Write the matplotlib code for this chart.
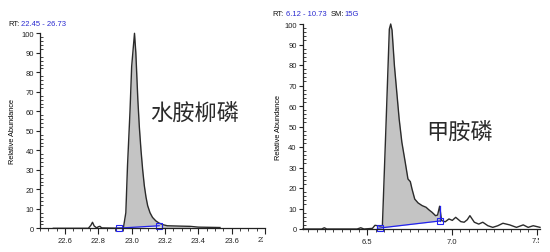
import numpy as np
import matplotlib
matplotlib.use("Agg")
import matplotlib.pyplot as plt
from matplotlib.ticker import MultipleLocator
from matplotlib.transforms import Bbox

plt.rcParams['font.family'] = ['Liberation Sans', 'Noto Sans CJK SC', 'DejaVu Sans']

# ---------------- data ----------------
# left chromatogram (水胺柳磷)
left_rt = [22.53, 22.74, 22.755, 22.765, 22.775, 22.79, 22.80, 22.81, 22.82, 22.95,
           22.965, 22.975, 22.99, 23.0, 23.017, 23.025, 23.037, 23.046, 23.056, 23.066,
           23.076, 23.086, 23.096, 23.11, 23.125, 23.145, 23.164, 23.19, 23.214, 23.3,
           23.35, 23.4, 23.53]
left_ab = [0, 0, 1.5, 3.1, 1.2, 0.2, 0.8, 1.0, 0.2, 0,
           8, 32, 60, 83, 100, 90, 66, 52, 40, 30,
           21.8, 16, 11.6, 8, 5.6, 3.8, 2.7, 1.8, 1.3, 1.1,
           1.0, 0.6, 0.4]
left_base_rt = [22.905, 23.165]
left_base_ab = [0.0, 1.3]
left_marks_rt = [22.925, 23.165]
left_marks_ab = [0.1, 1.3]
left_xticks = [22.6, 22.8, 23.0, 23.2, 23.4, 23.6]
left_cut_tick = 23.8
left_label = '水胺柳磷'

# right chromatogram (甲胺磷)
right_rt = [6.12, 6.23, 6.246, 6.26, 6.44, 6.461, 6.48, 6.53, 6.545, 6.56,
            6.575, 6.589, 6.61, 6.630, 6.638, 6.646, 6.66, 6.674, 6.688, 6.704,
            6.724, 6.74, 6.754, 6.764, 6.78, 6.80, 6.824, 6.847, 6.863, 6.883,
            6.903, 6.915, 6.927, 6.939, 6.96, 6.982, 7.002, 7.022, 7.052, 7.072,
            7.09, 7.106, 7.132, 7.158, 7.182, 7.212, 7.241, 7.271, 7.301, 7.341,
            7.381, 7.421, 7.45, 7.48, 7.52]
right_ab = [0, 0, 0.6, 0, 0, 0.6, 0, 0.3, 1.8, 1.6,
            1.4, 1.6, 50, 97.5, 100, 97, 79.7, 66.7, 53.7, 42.3,
            32.5, 24.4, 23.1, 19.5, 14.6, 12.7, 11.4, 10.6, 9.4, 8.1,
            6.5, 6.8, 11.1, 4.1, 3.5, 4.9, 4.2, 5.7, 3.6, 3.3,
            4.5, 6.5, 3.3, 2.4, 3.3, 1.6, 0.8, 1.6, 2.8, 2.0,
            0.8, 2.0, 0.8, 1.6, 0.8]
right_base_rt = [6.56, 6.575, 6.927]
right_base_ab = [0.4, 0.5, 3.9]
right_spike_ab = [3.9, 11.1]
right_marks_rt = [6.575, 6.927]
right_marks_ab = [0.5, 3.9]
right_xticks = [6.5, 7.0]
right_cut_tick = 7.5
right_label = '甲胺磷'

yticks = [0, 10, 20, 30, 40, 50, 60, 70, 80, 90, 100]

# ---------------- styling ----------------
W, H = 550, 253
fig = plt.figure(figsize=(W / 100, H / 100), dpi=100)
LINE = '#2b2b2b'
FILL = '#c4c4c4'
BLUE = '#2222ee'
TFS = 5.5


def style_axes(ax, xlim, xticks, cut_tick, clip_px):
    ax.set_xlim(*xlim)
    ax.set_ylim(0, 100)
    for s in ['top', 'right']:
        ax.spines[s].set_visible(False)
    for s in ['left', 'bottom']:
        ax.spines[s].set_linewidth(0.9)
        ax.spines[s].set_color('#222222')
    ax.set_xticks(xticks + [cut_tick])
    ax.set_xticklabels([f'{t:.1f}' for t in xticks] + [''])
    ax.xaxis.set_minor_locator(MultipleLocator(0.05))
    ax.set_yticks(yticks)
    ax.set_yticklabels([str(t) for t in yticks])
    ax.yaxis.set_minor_locator(MultipleLocator(2))
    ax.tick_params(axis='x', which='major', direction='out', length=4, width=0.8,
                   labelsize=TFS, pad=2.5, colors='#222222')
    ax.tick_params(axis='x', which='minor', direction='out', length=2, width=0.6,
                   colors='#222222')
    ax.tick_params(axis='y', which='major', direction='out', length=3, width=0.8,
                   labelsize=TFS, pad=1.5, colors='#222222')
    ax.tick_params(axis='y', which='minor', direction='in', length=2, width=0.6,
                   colors='#222222')
    ax.set_facecolor('none')
    # partially cut last tick label
    t = ax.text(cut_tick, -0.037, f'{cut_tick:.1f}', transform=ax.get_xaxis_transform(),
                ha='center', va='top', fontsize=TFS, color='#222222')
    t.set_clip_on(True)
    t.set_clip_box(Bbox([[0, 0], [clip_px, H]]))


# left axes: x 40..265 px, y0 at 229.3, y100 at 34.3
axL = fig.add_axes([40 / W, (H - 229.3) / H, 225 / W, 195 / H])
style_axes(axL, (22.45, 23.80), left_xticks, left_cut_tick, 263)
lx = np.array(left_rt)
ly = np.array(left_ab)
m = (lx >= left_base_rt[0]) & (lx <= 23.38)
fx = np.concatenate(([left_base_rt[0]], lx[m]))
fy = np.concatenate(([0.0], ly[m]))
fb = np.interp(fx, left_base_rt, left_base_ab, right=0.0)
axL.fill_between(fx, fb, fy, color=FILL, lw=0, clip_on=False)
axL.plot(lx, ly, color=LINE, lw=1.0, clip_on=False)
axL.plot(left_base_rt, left_base_ab, color=BLUE, lw=0.9, clip_on=False)
axL.plot(left_marks_rt, left_marks_ab, ls='none', marker='s', ms=4, mfc='none',
         mec=BLUE, mew=0.8, clip_on=False)
axL.set_ylabel('Relative Abundance', fontsize=5.3, labelpad=2)
axL.yaxis.set_label_coords(-(40 - 16.5) / 225, 0.5)
axL.text(195, H - 113, left_label, transform=None, fontsize=16, ha='center', va='center',
         family=['Noto Sans CJK SC'], color='#2a2a2a')

# right axes: x 303..540 px, y0 at 230, y100 at 25
axR = fig.add_axes([303 / W, (H - 230) / H, 237 / W, 205 / H])
style_axes(axR, (6.12, 7.52), right_xticks, right_cut_tick, 538.5)
rx = np.array(right_rt)
ry = np.array(right_ab)
m = (rx >= right_marks_rt[0]) & (rx <= right_marks_rt[1])
fx = rx[m]
fy = ry[m]
fb = np.interp(fx, right_base_rt, right_base_ab)
axR.fill_between(fx, fb, fy, color=FILL, lw=0, clip_on=False)
axR.plot(rx, ry, color=LINE, lw=1.0, clip_on=False)
axR.plot(right_base_rt, right_base_ab, color=BLUE, lw=0.9, clip_on=False)
axR.plot([right_marks_rt[1]] * 2, right_spike_ab, color=BLUE, lw=0.9, clip_on=False)
axR.plot(right_marks_rt, right_marks_ab, ls='none', marker='s', ms=4, mfc='none',
         mec=BLUE, mew=0.8, clip_on=False)
axR.set_ylabel('Relative Abundance', fontsize=5.3, labelpad=2)
axR.yaxis.set_label_coords(-(303 - 282.5) / 237, 0.5)
axR.text(460, H - 132, right_label, transform=None, fontsize=16, ha='center', va='center',
         family=['Noto Sans CJK SC'], color='#2a2a2a')


def px_text(x, y, s, color):
    fig.text(x / W, (H - y) / H, s, fontsize=TFS, color=color, ha='left', va='center')


px_text(8, 24, 'RT:', '#111111')
px_text(21, 24, '22.45 - 26.73', '#2a2ad0')
px_text(272, 14, 'RT:', '#111111')
px_text(285.5, 14, '6.12 - 10.73', '#2a2ad0')
px_text(331, 14, 'SM:', '#111111')
px_text(344, 14, '15G', '#2a2ad0')

fig.savefig('out.png', dpi=100, facecolor='white')
